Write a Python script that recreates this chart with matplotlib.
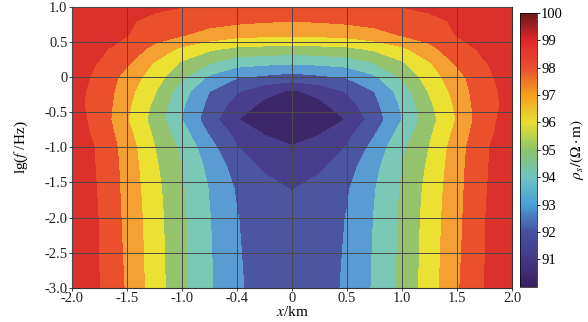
import numpy as np
import matplotlib
matplotlib.use('Agg')
import matplotlib.pyplot as plt
from matplotlib.colors import LinearSegmentedColormap, Normalize
import matplotlib.cm as cm

plt.rcParams['font.family'] = 'serif'
plt.rcParams['font.serif'] = ['Liberation Serif', 'DejaVu Serif']
plt.rcParams['mathtext.fontset'] = 'stix'

# profile positions (km) and lg f rows (rho_s, ohm*m)
x_km = [-2.0, -1.75, -1.5, -1.25, -1.0, -0.75, -0.5, -0.25, 0.0,
        0.25, 0.5, 0.75, 1.0, 1.25, 1.5, 1.75, 2.0]
lg_f = [1.0, 0.8, 0.6, 0.4, 0.2, 0.0, -0.2, -0.4, -0.6, -0.8, -1.0, -1.3, -1.6, -2.0, -2.5, -3.0]
rho = [
    [99.5, 99.4, 99.3, 99.15, 99.0, 98.87, 98.75, 98.68, 98.65, 98.68, 98.75, 98.87, 99.0, 99.15, 99.3, 99.4, 99.5],
    [99.45, 99.3, 99.1, 98.8, 98.52, 98.35, 98.2, 98.08, 98.0, 98.08, 98.2, 98.35, 98.52, 98.8, 99.1, 99.3, 99.45],
    [99.45, 99.3, 99.05, 98.35, 98.05, 97.62, 97.28, 97.17, 97.1, 97.17, 97.28, 97.62, 98.05, 98.35, 99.05, 99.3, 99.45],
    [99.4, 99.2, 98.5, 97.75, 96.75, 96.15, 95.74, 95.65, 95.55, 95.65, 95.74, 96.15, 96.75, 97.75, 98.5, 99.2, 99.4],
    [99.35, 98.95, 98.15, 96.9, 95.85, 95.0, 94.37, 94.2, 94.08, 94.2, 94.37, 95.0, 95.85, 96.9, 98.15, 98.95, 99.35],
    [99.3, 98.85, 97.6, 96.5, 95.15, 93.8, 93.06, 92.8, 92.55, 92.8, 93.06, 93.8, 95.15, 96.5, 97.6, 98.85, 99.3],
    [99.25, 98.75, 97.37, 96.1, 94.45, 93.0, 92.1, 91.3, 90.85, 91.3, 92.1, 93.0, 94.45, 96.1, 97.37, 98.75, 99.25],
    [99.25, 98.7, 97.2, 95.8, 94.13, 92.72, 91.55, 90.75, 90.6, 90.75, 91.55, 92.72, 94.13, 95.8, 97.2, 98.7, 99.25],
    [99.4, 98.67, 97.07, 95.6, 94.0, 92.46, 91.03, 90.6, 90.4, 90.6, 91.03, 92.46, 94.0, 95.6, 97.07, 98.67, 99.4],
    [99.4, 98.78, 97.31, 95.84, 94.42, 92.9, 91.7, 90.92, 90.65, 90.92, 91.7, 92.9, 94.42, 95.84, 97.31, 98.78, 99.4],
    [99.45, 98.9, 97.53, 96.03, 94.78, 93.35, 92.05, 91.5, 91.05, 91.5, 92.05, 93.35, 94.78, 96.03, 97.53, 98.9, 99.45],
    [99.45, 98.92, 97.63, 96.19, 95.0, 93.75, 92.6, 91.86, 91.5, 91.86, 92.6, 93.75, 95.0, 96.19, 97.63, 98.92, 99.45],
    [99.45, 98.95, 97.68, 96.33, 95.1, 93.95, 92.9, 92.4, 91.97, 92.4, 92.9, 93.95, 95.1, 96.33, 97.68, 98.95, 99.45],
    [99.45, 98.98, 97.74, 96.42, 95.17, 94.04, 93.04, 92.45, 92.2, 92.45, 93.04, 94.04, 95.17, 96.42, 97.74, 98.98, 99.45],
    [99.45, 98.99, 97.81, 96.47, 95.2, 94.09, 93.08, 92.6, 92.35, 92.6, 93.08, 94.09, 95.2, 96.47, 97.81, 98.99, 99.45],
    [99.45, 99.0, 97.89, 96.5, 95.25, 94.13, 93.12, 92.65, 92.4, 92.65, 93.12, 94.13, 95.25, 96.5, 97.89, 99.0, 99.45],
]
levels = [90, 91, 92, 93, 94, 95, 96, 97, 98, 99, 100]
band_colors = ['#3c2869', '#483e8c', '#4b55a0', '#5a9bd2', '#7cc8b6',
               '#96c36e', '#ebe132', '#f5a032', '#eb502d', '#dc302a']
bar_colors = ['#3a1f5e', '#433a85', '#4650a0', '#4aa0d8', '#6ec4c0', '#8cc46a',
              '#e8e030', '#f5a020', '#e85030', '#e02828', '#6a1a1a']
xticks = [-2.0, -1.5, -1.0, -0.5, 0, 0.5, 1.0, 1.5, 2.0]
xlabels = ['-2.0', '-1.5', '-1.0', '-0.4', '0', '0.5', '1.0', '1.5', '2.0']
yticks = [-3.0, -2.5, -2.0, -1.5, -1.0, -0.5, 0, 0.5, 1.0]
ylabels = ['-3.0', '-2.5', '-2.0', '-1.5', '-1.0', '-0.5', '0', '0.5', '1.0']
cticks = [91, 92, 93, 94, 95, 96, 97, 98, 99, 100]

fig = plt.figure(figsize=(5.88, 3.22), dpi=100)
ax = fig.add_axes([0.122, 0.1065, 0.749, 0.8715])
X, Y = np.meshgrid(x_km, lg_f)
ax.contourf(X, Y, np.array(rho), levels=levels, colors=band_colors)
ax.set_xlim(-2, 2)
ax.set_ylim(-3, 1)
ax.set_xticks(xticks)
ax.set_xticklabels(xlabels)
ax.set_yticks(yticks)
ax.set_yticklabels(ylabels)
ax.set_axisbelow(False)
ax.grid(True, color='#4a4a4a', linewidth=0.7)
ax.tick_params(labelsize=10.5, length=2, width=0.6, pad=1, colors='#222222')
for s in ax.spines.values():
    s.set_color('#333333')
    s.set_linewidth(0.8)
ax.set_xlabel(r'$x$/km', fontsize=11, labelpad=0)
ax.set_ylabel(r'lg($f$ /Hz)', fontsize=11, labelpad=10)

cax = fig.add_axes([0.884, 0.109, 0.029, 0.851])
cmap = LinearSegmentedColormap.from_list('rho', bar_colors)
sm = cm.ScalarMappable(norm=Normalize(90, 100), cmap=cmap)
cb = fig.colorbar(sm, cax=cax, ticks=cticks)
cb.outline.set_linewidth(0.5)
cb.ax.tick_params(labelsize=10.5, length=2, width=0.6, pad=1)
cb.set_label(r'$\rho_s/(\Omega\cdot\mathrm{m})$', fontsize=11, labelpad=4)

fig.savefig('out.png', dpi=100)
